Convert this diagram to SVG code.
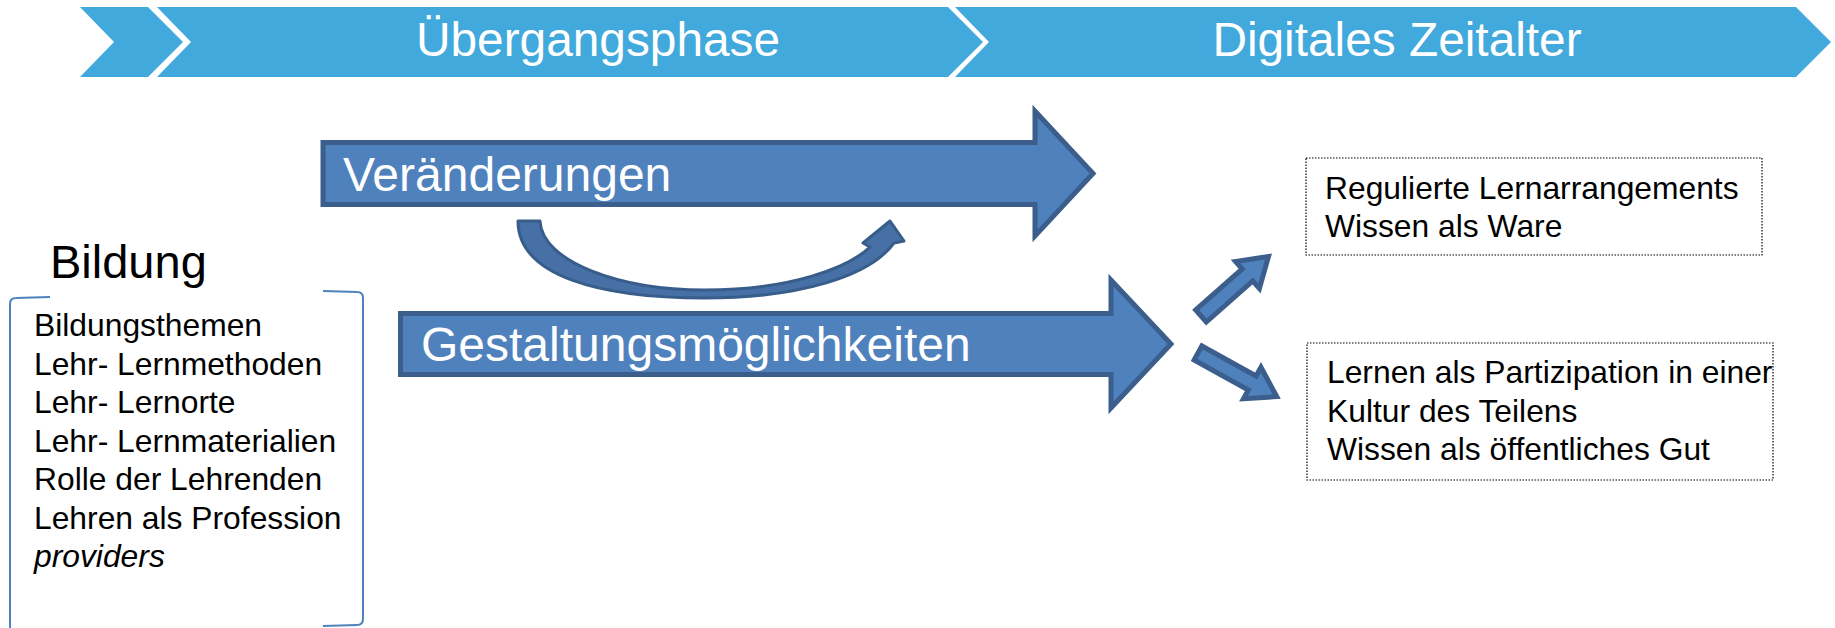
<svg xmlns="http://www.w3.org/2000/svg" width="1835" height="628" viewBox="0 0 1835 628">
<style>
.band{fill:#41A9DC}
.bandtxt{font-family:"Liberation Sans",Arial,sans-serif;font-size:47.8px;fill:#FFFFFF;text-anchor:middle}
.blk{fill:#4F81BD;stroke:#3B5E8C;stroke-width:5;stroke-linejoin:miter}
.blktxt{font-family:"Liberation Sans",Arial,sans-serif;font-size:48px;fill:#FFFFFF}
.txt{font-family:"Liberation Sans",Arial,sans-serif;font-size:31.8px;fill:#000000}
.box{fill:#FFFFFF;stroke:#000000;stroke-width:1.2;stroke-dasharray:1.5 1.5}
.brk{fill:none;stroke:#4F81BD;stroke-width:2}
</style>
<g id="timeline">
<path class="band" d="M80,7 L148,7 L183,42 L148,77 L80,77 L114,42 Z"/>
<path class="band" d="M157,7 L948,7 L983,42 L948,77 L157,77 L191,42 Z"/>
<path class="band" d="M955,7 L1796,7 L1831,42 L1796,77 L955,77 L989,42 Z"/>
<text class="bandtxt" x="598" y="56">Übergangsphase</text>
<text class="bandtxt" x="1397" y="56">Digitales Zeitalter</text>
</g>
<g id="veraenderungen">
<path class="blk" d="M323,142.5 L1035,142.5 L1035,111 L1093,173.5 L1035,236 L1035,204.5 L323,204.5 Z"/>
<text class="blktxt" x="343" y="191">Veränderungen</text>
</g>
<g id="gestaltung">
<path class="blk" d="M400.5,313.5 L1111,313.5 L1111,280 L1171,344 L1111,408 L1111,374.5 L400.5,374.5 Z"/>
<text class="blktxt" x="421" y="361">Gestaltungsmöglichkeiten</text>
</g>
<g id="bildung">
<text x="50" y="278" style="font-family:'Liberation Sans',Arial,sans-serif;font-size:47px;fill:#000">Bildung</text>
<path class="brk" d="M50,297 L16,298 Q10,298 10,304 L10,640"/>
<path class="brk" d="M323,291 L357,292 Q363,292 363,298 L363,619 Q363,625 357,625 L323,626"/>
<text class="txt" x="34" y="336">Bildungsthemen</text>
<text class="txt" x="34" y="374.5">Lehr- Lernmethoden</text>
<text class="txt" x="34" y="413">Lehr- Lernorte</text>
<text class="txt" x="34" y="451.5">Lehr- Lernmaterialien</text>
<text class="txt" x="34" y="490">Rolle der Lehrenden</text>
<text class="txt" x="34" y="528.5">Lehren als Profession</text>
<text class="txt" x="34" y="567" font-style="italic">providers</text>
</g>
<g id="box-reguliert">
<rect class="box" x="1306" y="158" width="456" height="97"/>
<text class="txt" x="1325" y="199">Regulierte Lernarrangements</text>
<text class="txt" x="1325" y="237">Wissen als Ware</text>
</g>
<g id="box-partizipation">
<rect class="box" x="1307" y="343" width="466" height="137"/>
<text class="txt" x="1327" y="383">Lernen als Partizipation in einer</text>
<text class="txt" x="1327" y="422">Kultur des Teilens</text>
<text class="txt" x="1327" y="460">Wissen als öffentliches Gut</text>
</g>
<g id="connectors">
<path d="M518,221 L540,221 C542,262 620,290 705,290 C790,290 848,268 870,247 L863,243 L890,221 L904,241 L894,243 C870,276 800,298 705,298 C600,298 518,276 518,221 Z" fill="#4670A6" stroke="#385D8A" stroke-width="3" stroke-linejoin="round"/>
<path class="blk" stroke-width="4" transform="translate(1201,316) rotate(-41.4)" d="M0,-8 L62,-8 L62,-18 L90,0 L62,18 L62,8 L0,8 Z"/>
<path class="blk" stroke-width="4" transform="translate(1198,353) rotate(29)" d="M0,-8 L62,-8 L62,-18 L90,0 L62,18 L62,8 L0,8 Z"/>
</g>
</svg>
